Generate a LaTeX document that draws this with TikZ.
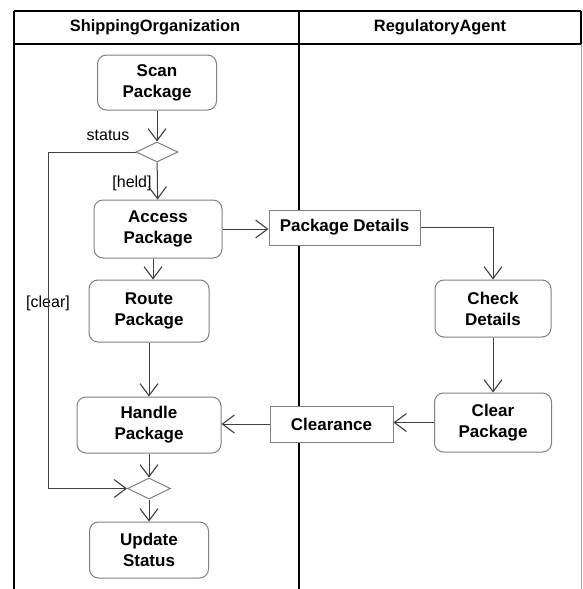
\documentclass[tikz,border=0pt]{standalone}
\usepackage{fontspec}
\setmainfont{Liberation Sans}
\usetikzlibrary{arrows.meta,shapes.geometric}
\begin{document}
\begin{tikzpicture}[x=1pt,y=-1pt,
 act/.style={draw=black!50, line width=1pt, rounded corners=9pt, fill=white, align=center, font=\fontsize{17}{21}\selectfont\bfseries, inner sep=0pt},
 obj/.style={draw=black!50, line width=1pt, fill=white, align=center, font=\fontsize{17}{21}\selectfont\bfseries, inner sep=0pt},
 dec/.style={diamond, draw=black!50, line width=1pt, fill=white, inner sep=0pt, minimum width=42pt, minimum height=20pt, aspect=2},
 flow/.style={draw=black!75, line width=1pt, -{Straight Barb[length=12pt,width=18pt,line width=1.1pt]}},
 lane/.style={line width=1.8pt},
 lbl/.style={font=\fontsize{16}{19}\selectfont, inner sep=0pt},
 hdr/.style={font=\fontsize{16.4}{19}\selectfont\bfseries, inner sep=0pt}]
\useasboundingbox (0,0) rectangle (583,589);
\fill[white] (0,0) rectangle (583,589);

% swimlane frame
\draw[lane] (14,11) -- (581,11);
\draw[lane] (14,44) -- (581,44);
\draw[lane] (14,11) -- (14,589);
\draw[lane] (299,11) -- (299,589);
\draw[lane] (581,11) -- (581,44);
\draw[black!35, line width=1pt] (581,44) -- (581,589);
\node[hdr] (h1) at (155,27) {ShippingOrganization};
\node[hdr] (h2) at (440,27) {RegulatoryAgent};

% activities
\node[act, minimum width=119pt, minimum height=55pt] (scan) at (157,82.5) {Scan\\Package};
\node[dec] (d1) at (157,152) {};
\node[act, minimum width=128pt, minimum height=58pt] (access) at (158,229) {Access\\Package};
\node[act, minimum width=120pt, minimum height=62pt] (route) at (149,311) {Route\\Package};
\node[act, minimum width=144pt, minimum height=56pt] (handle) at (149,425) {Handle\\Package};
\node[dec, minimum width=43pt, minimum height=21pt] (d2) at (149,488.5) {};
\node[act, minimum width=119pt, minimum height=56pt] (update) at (149,550) {Update\\Status};
\node[act, minimum width=116pt, minimum height=57pt] (check) at (493,308.5) {Check\\Details};
\node[act, minimum width=117pt, minimum height=59pt] (clear) at (493,422.5) {Clear\\Package};

% objects
\node[obj, minimum width=151pt, minimum height=35pt] (pd) at (344.5,227.5) {Package Details};
\node[obj, minimum width=123pt, minimum height=36pt] (cl) at (331.5,424) {Clearance};

% labels
\node[lbl] (ls) at (108,135) {status};
\node[lbl] (lh) at (132,183) {[held]};
\node[lbl] (lc) at (48,303) {[clear]};

% connectors
\coordinate (c1) at (48,152);
\coordinate (c2) at (48,488.5);
\draw[flow] (scan) -- (d1);
\draw[flow] (d1) -- (access);
\draw[flow] ([xshift=-5pt]access.south) -- ([xshift=4pt]route.north);
\draw[flow] (route) -- (handle);
\draw[flow] (handle) -- (d2);
\draw[flow] (d2) -- (update);
\draw[flow] (d1.west) -- (c1) -- (c2) -- (d2.west);
\draw[flow] (access.east) -- (access.east -| pd.west);
\draw[flow] (pd.east) -| (check.north);
\draw[flow] (check) -- (clear);
\draw[flow] (clear.west) -- (clear.west -| cl.east);
\draw[flow] (cl.west) -- (cl.west -| handle.east);
\end{tikzpicture}
\end{document}
